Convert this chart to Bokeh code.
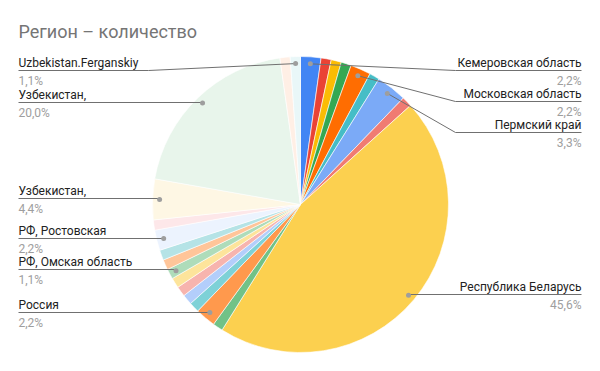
import math
from bokeh.plotting import figure
from bokeh.models import Range1d
from bokeh.embed import file_html
from bokeh.resources import INLINE
from bokeh.core.properties import value

# ---- data (clockwise from 12 o'clock) ----
names = ["Кемеровская область", "", "", "", "Московская область", "", "Пермский край", "",
         "Республика Беларусь", "", "Россия", "", "", "", "", "РФ, Омская область", "", "",
         "РФ, Ростовская", "", "Узбекистан,", "Узбекистан,", "", "Uzbekistan.Ferganskiy"]
counts = [2, 1, 1, 1, 2, 1, 3, 1,
          41, 1, 2, 1, 1, 1, 1, 1, 1, 1,
          2, 1, 4, 18, 1, 1]
colors = ["#4285F4", "#EA4335", "#FBBC04", "#34A853", "#FF6D01", "#46BDC6",
          "#7BAAF7", "#F07B72", "#FCD04F", "#71C287", "#FF994D", "#7ED1D7",
          "#B3CEFB", "#F7B4AE", "#FDE49B", "#AEDCBA", "#FFC599", "#B5E3E6",
          "#ECF3FE", "#FDE7E9", "#FEF7E4", "#E8F5EB", "#FFEFE5", "#E9F7F8"]
title_text = "Регион – количество"

# ---- layout (page pixel coordinates) ----
W, H = 592, 363
CX, CY, R, RDOT = 300, 204, 148, 141
label_layout = {
    0: ("right", 70), 4: ("right", 101), 6: ("right", 132), 8: ("right", 294),
    10: ("left", 312), 15: ("left", 269), 18: ("left", 238), 20: ("left", 198),
    21: ("left", 102), 23: ("left", 70),
}
LEFT_X, RIGHT_X, RIGHT_LINE_X = 18, 581, 455


def px(x):
    return x


def py(y):
    return H - y


p = figure(width=W, height=H, output_backend="svg", toolbar_location=None,
           x_range=Range1d(0, W), y_range=Range1d(0, H), min_border=0)
p.axis.visible = False
p.grid.visible = False
p.outline_line_color = None
p.background_fill_color = "white"
p.border_fill_color = "white"

total = sum(counts)
starts, ends, mids = [], [], []
cum = 0
for c in counts:
    f0 = cum / total
    cum += c
    f1 = cum / total
    starts.append(math.pi / 2 - 2 * math.pi * f1)
    ends.append(math.pi / 2 - 2 * math.pi * f0)
    mids.append(2 * math.pi * (f0 + f1) / 2)

p.wedge(x=[px(CX)] * len(counts), y=[py(CY)] * len(counts), radius=R,
        start_angle=starts, end_angle=ends, direction="anticlock",
        fill_color=colors, line_color="white", line_width=0.6)

FONT = value("Roboto")
p.text(x=[px(18)], y=[py(31)], text=[title_text], text_font=FONT,
       text_font_size="18px", text_color="#757575", text_baseline="middle")

lx, ly, dx_, dy_ = [], [], [], []
for i, (side, uy) in label_layout.items():
    a = mids[i]
    dx = CX + RDOT * math.sin(a)
    dy = CY - RDOT * math.cos(a)
    dx_.append(px(dx)); dy_.append(py(dy))
    pct = f"{counts[i] / total * 100:.1f}".replace(".", ",") + "%"
    bent = abs(dy - uy) > 2
    if side == "right":
        xs = [dx, RIGHT_LINE_X, RIGHT_X] if bent else [dx, RIGHT_X]
        ys = [dy, uy, uy] if bent else [uy, uy]
        tx, align = RIGHT_X, "right"
    else:
        xs = [LEFT_X, 148, dx] if bent else [LEFT_X, dx]
        ys = [uy, uy, dy] if bent else [uy, uy]
        tx, align = LEFT_X, "left"
    lx.append([px(v) for v in xs]); ly.append([py(v) for v in ys])
    p.text(x=[px(tx)], y=[py(uy - 8)], text=[names[i]], text_font=FONT,
           text_font_size="12px", text_color="#222222", text_align=align,
           text_baseline="alphabetic")
    p.text(x=[px(tx)], y=[py(uy + 10.5)], text=[pct], text_font=FONT,
           text_font_size="12px", text_color="#9E9E9E", text_align=align,
           text_baseline="alphabetic")

p.multi_line(xs=lx, ys=ly, line_color="#707070", line_width=1)
p.scatter(x=dx_, y=dy_, size=5, fill_color="#9E9E9E", line_color=None)

open("out.html", "w").write(file_html(p, INLINE))
